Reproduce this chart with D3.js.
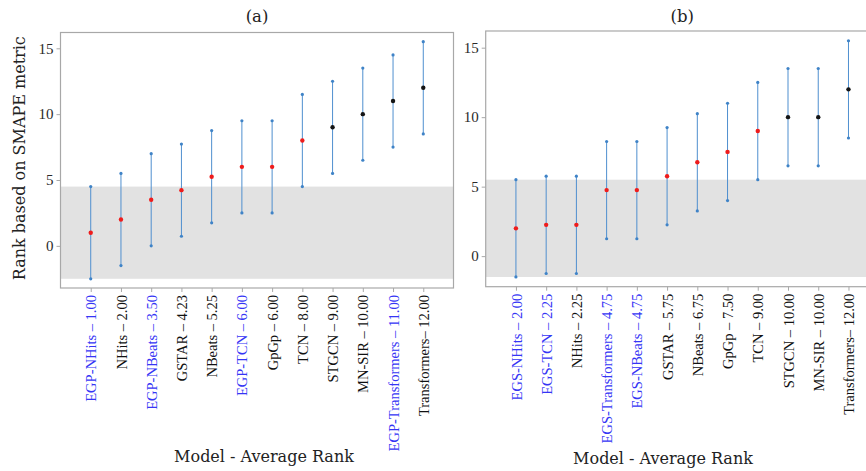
<!DOCTYPE html>
<html>
<head>
<meta charset="utf-8">
<script src="https://cdn.jsdelivr.net/npm/d3@7"></script>
<style>
  html, body { margin: 0; padding: 0; background: #fff; overflow: hidden; }
  svg { display: block; }
</style>
</head>
<body>
<svg id="chart" width="866" height="471"></svg>
<script>
// Panel (a): EGP variants
const modelsA = ["EGP-NHits", "NHits", "EGP-NBeats", "GSTAR", "NBeats", "EGP-TCN",
                 "GpGp", "TCN", "STGCN", "MN-SIR", "EGP-Transformers", "Transformers"];
const ranksA = [1.00, 2.00, 3.50, 4.23, 5.25, 6.00, 6.00, 8.00, 9.00, 10.00, 11.00, 12.00];
const dashA = [" – ", " – ", " – ", " – ", " – ", " – ", " – ", " – ", " – ", " – ", " – ", "– "];

// Panel (b): EGS variants
const modelsB = ["EGS-NHits", "EGS-TCN", "NHits", "EGS-Transformers", "EGS-NBeats", "GSTAR",
                 "NBeats", "GpGp", "TCN", "STGCN", "MN-SIR", "Transformers"];
const ranksB = [2.00, 2.25, 2.25, 4.75, 4.75, 5.75, 6.75, 7.50, 9.00, 10.00, 10.00, 12.00];
const dashB = [" – ", " – ", " – ", " – ", " – ", " – ", " – ", " – ", " – ", " – ", " – ", "– "];

// Half-width of the critical-difference interval around each average rank
const halfCD = 3.5;
const yTicks = [0, 5, 10, 15];

const svg = d3.select("#chart");

function panel(opts) {
  const { models, ranks, dashes, x0, x1, y0, y1, title, prefix, yTitle } = opts;
  const rows = models.map((m, i) => ({ model: m, rank: ranks[i], dash: dashes[i] }));
  const lo = d3.min(rows, d => d.rank - halfCD);
  const hi = d3.max(rows, d => d.rank + halfCD);

  const x = d3.scalePoint().domain(models).range([x0, x1]).padding(1);
  const y = d3.scaleLinear().domain([lo - 0.7, hi + 0.7]).range([y1, y0]);

  const g = svg.append("g");

  // best model's interval shaded across the panel
  const best = rows[0];
  g.append("rect")
    .attr("x", x0).attr("width", x1 - x0)
    .attr("y", y(best.rank + halfCD))
    .attr("height", y(best.rank - halfCD) - y(best.rank + halfCD))
    .attr("fill", "#e2e2e2");

  const bandTop = best.rank + halfCD;

  // intervals
  g.selectAll("line.ci").data(rows).join("line")
    .attr("class", "ci")
    .attr("x1", d => x(d.model)).attr("x2", d => x(d.model))
    .attr("y1", d => y(d.rank - halfCD)).attr("y2", d => y(d.rank + halfCD))
    .attr("stroke", "#4f8fcf").attr("stroke-width", 1);

  const ends = rows.flatMap(d => [{ model: d.model, v: d.rank - halfCD }, { model: d.model, v: d.rank + halfCD }]);
  g.selectAll("circle.end").data(ends).join("circle")
    .attr("class", "end")
    .attr("cx", d => x(d.model)).attr("cy", d => y(d.v))
    .attr("r", 1.6).attr("fill", "#3f83c7");

  g.selectAll("circle.mid").data(rows).join("circle")
    .attr("class", "mid")
    .attr("cx", d => x(d.model)).attr("cy", d => y(d.rank))
    .attr("r", 2.2)
    .attr("fill", d => (d.rank - halfCD <= bandTop ? "#ee1c1c" : "#151515"));

  // frame
  g.append("rect")
    .attr("x", x0).attr("y", y0)
    .attr("width", x1 - x0).attr("height", y1 - y0)
    .attr("fill", "none").attr("stroke", "#a8a8a8").attr("stroke-width", 1.2);

  // y axis
  const yAxis = g.append("g")
    .attr("transform", `translate(${x0},0)`)
    .call(d3.axisLeft(y).tickValues(yTicks).tickSize(4).tickPadding(3));
  yAxis.select(".domain").remove();
  yAxis.selectAll(".tick line").attr("stroke", "#a8a8a8");
  yAxis.selectAll(".tick text")
    .attr("fill", "#2a2a2a")
    .style("font-family", "'Liberation Serif', serif")
    .style("font-size", "15px");

  // x axis with rotated labels
  const xAxis = g.append("g")
    .attr("transform", `translate(0,${y1})`)
    .call(d3.axisBottom(x).tickSize(4).tickPadding(4)
      .tickFormat(m => {
        const r = rows.find(d => d.model === m);
        return m + r.dash + r.rank.toFixed(2);
      }));
  xAxis.select(".domain").remove();
  xAxis.selectAll(".tick line").attr("stroke", "#a8a8a8");
  xAxis.selectAll(".tick text")
    .attr("transform", "rotate(-90)")
    .attr("x", -7).attr("y", 0).attr("dy", "0.35em")
    .attr("text-anchor", "end")
    .attr("fill", m => (m.startsWith(prefix) ? "#3535f5" : "#111"))
    .style("font-family", "'Liberation Serif', serif")
    .style("font-size", "14.5px");

  // titles
  g.append("text")
    .attr("x", (x0 + x1) / 2).attr("y", 22)
    .attr("text-anchor", "middle")
    .attr("fill", "#222")
    .style("font-family", "'DejaVu Serif', serif")
    .style("font-size", "16.5px")
    .text(title);

  g.append("text")
    .attr("x", opts.xTitleX).attr("y", opts.xTitleY)
    .attr("text-anchor", "middle")
    .attr("fill", "#222")
    .style("font-family", "'DejaVu Serif', serif")
    .style("font-size", "16px")
    .text("Model - Average Rank");

  if (yTitle) {
    g.append("text")
      .attr("transform", `translate(25,${(y0 + y1) / 2 - 2}) rotate(-90)`)
      .attr("text-anchor", "middle")
      .attr("fill", "#222")
      .style("font-family", "'DejaVu Serif', serif")
      .style("font-size", "16px")
      .text(yTitle);
  }
}

panel({
  models: modelsA, ranks: ranksA, dashes: dashA,
  x0: 60.5, x1: 453.5, y0: 32.5, y1: 288,
  title: "(a)", prefix: "EGP", yTitle: "Rank based on SMAPE metric",
  xTitleX: 264, xTitleY: 462
});

panel({
  models: modelsB, ranks: ranksB, dashes: dashB,
  x0: 485.7, x1: 878.7, y0: 31, y1: 286.7,
  title: "(b)", prefix: "EGS", yTitle: null,
  xTitleX: 663, xTitleY: 464
});
</script>
</body>
</html>
